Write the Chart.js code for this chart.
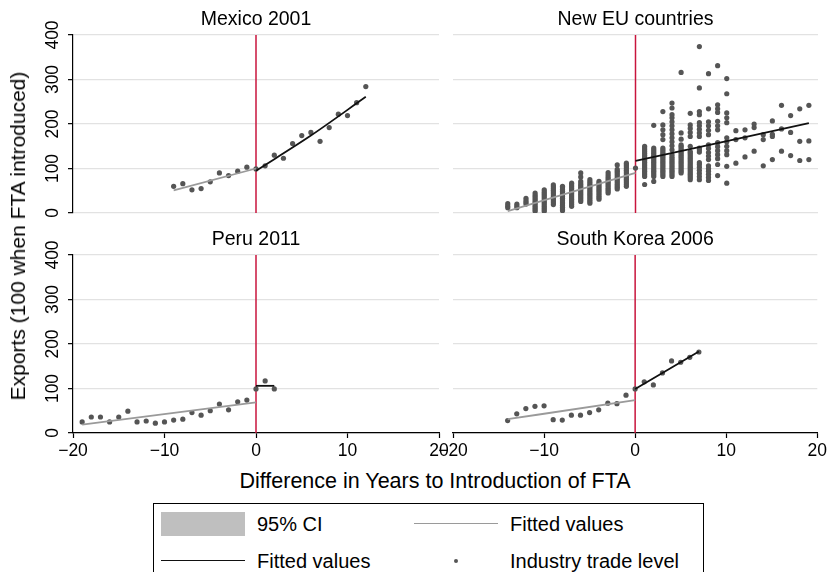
<!DOCTYPE html>
<html>
<head>
<meta charset="utf-8">
<script src="https://cdn.jsdelivr.net/npm/chart.js@4.4.1/dist/chart.umd.min.js"></script>
<style>
  body { margin: 0; background: #fff; width: 830px; height: 572px; overflow: hidden; position: relative;
         font-family: "Liberation Sans", Arial, Helvetica, sans-serif; color: #000; }
  canvas { position: absolute; }
  .txt { position: absolute; white-space: nowrap; }
  #ytitle { left: 18px; top: 236px; font-size: 21px; transform: translate(-50%, -50%) rotate(-90deg); }
  #xtitle { left: 435px; top: 481px; font-size: 21.5px; transform: translate(-50%, -50%); }
  #legend { position: absolute; left: 153px; top: 503px; width: 551px; height: 90px;
            border: 1.3px solid #000; box-sizing: border-box; font-size: 20px; }
  #legend .lbl { position: absolute; line-height: 24px; white-space: nowrap; }
  #legend .sym { position: absolute; }
</style>
</head>
<body>
<canvas id="mexico" width="452" height="225" style="left:0;top:0"></canvas>
<canvas id="eu" width="400" height="225" style="left:430px;top:0"></canvas>
<canvas id="peru" width="452" height="245" style="left:0;top:220px"></canvas>
<canvas id="korea" width="400" height="245" style="left:430px;top:220px"></canvas>

<div class="txt" id="ytitle">Exports (100 when FTA introduced)</div>
<div class="txt" id="xtitle">Difference in Years to Introduction of FTA</div>

<div id="legend">
  <div class="sym" style="left:7px;top:8px;width:84px;height:24px;background:#bfbfbf"></div>
  <div class="lbl" style="left:103px;top:8px">95% CI</div>
  <div class="sym" style="left:260px;top:19px;width:84px;height:0;border-top:1.6px solid #9a9a9a"></div>
  <div class="lbl" style="left:356px;top:8px">Fitted values</div>
  <div class="sym" style="left:7px;top:56px;width:84px;height:0;border-top:1.6px solid #111"></div>
  <div class="lbl" style="left:103px;top:45px">Fitted values</div>
  <div class="sym" style="left:300px;top:55px;width:4px;height:4px;border-radius:50%;background:#555"></div>
  <div class="lbl" style="left:356px;top:45px">Industry trade level</div>
</div>

<script>
// Mexico 2001
var mexYears = [-9, -8, -7, -6, -5, -4, -3, -2, -1, 0, 1, 2, 3, 4, 5, 6, 7, 8, 9, 10, 11, 12]
var mexValues = [60, 66, 52, 55, 70, 90, 84, 94, 103, 99, 106, 130, 123, 156, 174, 181, 161, 192, 222, 219, 248, 284]
var mexPreFitX = [-9, 0]
var mexPreFitY = [51, 100]
var mexPostFitX = [0, 6, 12]
var mexPostFitY = [95, 174, 261]

// Peru 2011
var peruYears = [-19, -18, -17, -16, -15, -14, -13, -12, -11, -10, -9, -8, -7, -6, -5, -4, -3, -2, -1, 0, 1, 2]
var peruValues = [25, 36, 36, 25, 36, 49, 25, 27, 22, 25, 29, 31, 46, 40, 50, 65, 52, 70, 74, 99, 117, 99]
var peruPreFitX = [-19, 0]
var peruPreFitY = [19, 69]
var peruPostFitX = [0, 2]
var peruPostFitY = [106, 106]

// South Korea 2006
var korYears = [-14, -13, -12, -11, -10, -9, -8, -7, -6, -5, -4, -3, -2, -1, 0, 1, 2, 3, 4, 5, 6, 7]
var korValues = [28, 43, 55, 60, 61, 30, 29, 40, 40, 46, 52, 67, 66, 85, 99, 115, 108, 135, 162, 159, 170, 182]
var korPreFitX = [-14, 0]
var korPreFitY = [31, 74]
var korPostFitX = [0, 7]
var korPostFitY = [99, 183]

// New EU countries: several industries per year
var euYears = [-14, -13, -12, -11, -10, -9, -8, -7, -6, -5, -4, -3, -2, -1, 0,
               1, 2, 3, 4, 5, 6, 7, 8, 9, 10, 11, 12, 13, 14, 15, 16, 17, 18, 19]
var euValues = [
  [12, 16, 21],
  [12, 16, 20],
  [20, 24, 28, 33],
  [4, 8, 12, 16, 20, 24, 28, 32, 36, 40, 45],
  [4, 8, 12, 16, 20, 24, 28, 32, 36, 40, 44, 48, 52],
  [19, 23, 27, 31, 35, 39, 43, 47, 51, 55, 59, 63],
  [5, 9, 13, 17, 21, 25, 29, 33, 37, 41, 45, 49, 53, 57, 60],
  [15, 19, 23, 27, 31, 35, 39, 43, 47, 51, 55, 59, 63, 67],
  [26, 30, 34, 38, 42, 46, 50, 54, 58, 62, 66, 71, 81, 90],
  [22, 26, 30, 34, 38, 42, 46, 50, 54, 58, 62, 66, 70, 75],
  [31, 35, 39, 43, 47, 51, 55, 59, 63, 67, 71],
  [45, 49, 53, 57, 61, 65, 69, 73, 77, 81, 86, 91],
  [54, 58, 62, 66, 70, 74, 78, 82, 86, 90, 94, 98, 108],
  [60, 64, 68, 72, 76, 80, 84, 88, 92, 96, 100, 104, 108, 112],
  [101],
  [64, 82, 86, 90, 94, 98, 102, 106, 110, 114, 118, 122, 126, 130, 134, 138, 142, 146, 150],
  [71, 82, 86, 90, 94, 98, 102, 106, 110, 114, 118, 122, 126, 130, 134, 138, 142, 146, 197],
  [82, 86, 90, 94, 98, 102, 106, 110, 114, 118, 122, 126, 130, 134, 138, 142, 146, 165, 176, 187, 198, 228],
  [82, 86, 90, 94, 98, 102, 106, 110, 114, 118, 122, 126, 131, 142, 151, 160, 169, 178, 187, 196, 205, 214, 221, 236, 247],
  [90, 94, 98, 102, 106, 110, 114, 118, 122, 126, 130, 134, 138, 142, 146, 150, 153, 166, 180, 316],
  [75, 79, 83, 87, 91, 95, 99, 103, 107, 111, 115, 119, 123, 127, 131, 135, 138, 150, 172, 181, 190, 198, 224],
  [75, 82, 89, 96, 103, 109, 113, 137, 142, 146, 172, 180, 188, 196, 203, 221, 228, 281, 374],
  [73, 80, 87, 94, 100, 106, 120, 128, 136, 145, 153, 176, 186, 196, 205, 234, 313],
  [84, 109, 122, 131, 140, 149, 158, 187, 196, 206, 226, 234, 243, 331],
  [67, 105, 131, 140, 150, 160, 169, 203, 214, 225, 268, 302],
  [112, 165, 185],
  [126, 169, 187],
  [139, 192, 200],
  [106, 165, 176],
  [120, 172, 177, 207],
  [139, 189, 242],
  [129, 181, 219],
  [118, 161, 234],
  [120, 162, 242]
]
var euPreFitX = [-14, 0]
var euPreFitY = [4, 90]
var euPostFitX = [0, 19]
var euPostFitY = [117, 202]

// axis ticks
var xTicks = [-20, -10, 0, 10, 20]
var yTicks = [0, 100, 200, 300, 400]

const FONT = '"Liberation Sans", Arial, Helvetica, sans-serif'
const RED = '#c8143c'
const DOT = '#555555'
Chart.defaults.font.family = FONT
Chart.defaults.color = '#000'

function toPoints(xs, ys) {
  return xs.map(function (x, i) { return {x: x, y: ys[i]} })
}

var euPoints = []
euYears.forEach(function (yr, i) {
  euValues[i].forEach(function (v) { euPoints.push({x: yr, y: v}) })
})

// one panel of the by() graph
function makePanel(id, title, points, preFit, postFit, opt) {
  new Chart(document.getElementById(id), {
    type: 'scatter',
    data: {
      datasets: [
        {data: [{x: 0, y: yTicks[0]}, {x: 0, y: yTicks[yTicks.length - 1]}], showLine: true,
         borderColor: RED, borderWidth: 1.5, pointRadius: 0, order: 3},
        {data: points, pointRadius: 2.6, backgroundColor: DOT, borderWidth: 0, order: 2},
        {data: preFit, showLine: true, borderColor: '#9a9a9a', borderWidth: 1.8, pointRadius: 0,
         cubicInterpolationMode: 'monotone', order: 1},
        {data: postFit, showLine: true, borderColor: '#111111', borderWidth: 1.8, pointRadius: 0,
         cubicInterpolationMode: 'monotone', order: 1}
      ]
    },
    options: {
      responsive: false,
      animation: false,
      events: [],
      layout: {padding: {left: opt.padLeft, right: opt.padRight, top: 0, bottom: opt.padBottom}},
      plugins: {
        legend: {display: false},
        tooltip: {enabled: false},
        // centred over the plot region only, like the Stata panel titles
        title: {display: true, fullSize: false, text: title, color: '#000',
                font: {size: 19.5, weight: 'normal'}, padding: {top: 8.3, bottom: 3.3}}
      },
      scales: {
        x: {
          type: 'linear', min: xTicks[0], max: xTicks[xTicks.length - 1],
          display: opt.showX,
          afterBuildTicks: function (s) { s.ticks = xTicks.map(function (v) { return {value: v} }) },
          grid: {drawOnChartArea: false, drawTicks: true, tickLength: 5, tickColor: '#000', tickWidth: 1.2},
          border: {display: true, color: '#000', width: 1.2},
          ticks: {autoSkip: false, maxRotation: 0, padding: 3, color: '#000', font: {size: 17.5},
                  callback: function (v) { return String(v).replace('-', '\u2212') }},
          afterFit: function (s) { s.height = opt.showX ? 30 : 0 }
        },
        y: {
          type: 'linear', min: yTicks[0], max: yTicks[yTicks.length - 1],
          afterBuildTicks: function (s) { s.ticks = yTicks.map(function (v) { return {value: v} }) },
          grid: {color: '#e2e2e2', lineWidth: 1.3, drawTicks: opt.showY, tickLength: 5,
                 tickColor: '#000', tickWidth: 1.2},
          border: {display: opt.showY, color: '#000', width: 1.2},
          ticks: {display: opt.showY, minRotation: 90, maxRotation: 90, crossAlign: 'center',
                  padding: 0, color: '#000', font: {size: 17.5}},
          afterFit: function (s) { s.width = opt.showY ? 73 : 0 }
        }
      }
    }
  })
}

makePanel('mexico', 'Mexico 2001', toPoints(mexYears, mexValues),
  toPoints(mexPreFitX, mexPreFitY), toPoints(mexPostFitX, mexPostFitY),
  {showX: false, showY: true, padLeft: 0, padRight: 13, padBottom: 12})
makePanel('eu', 'New EU countries', euPoints,
  toPoints(euPreFitX, euPreFitY), toPoints(euPostFitX, euPostFitY),
  {showX: false, showY: false, padLeft: 23, padRight: 12, padBottom: 12})
makePanel('peru', 'Peru 2011', toPoints(peruYears, peruValues),
  toPoints(peruPreFitX, peruPreFitY), toPoints(peruPostFitX, peruPostFitY),
  {showX: true, showY: true, padLeft: 0, padRight: 13, padBottom: 2})
makePanel('korea', 'South Korea 2006', toPoints(korYears, korValues),
  toPoints(korPreFitX, korPreFitY), toPoints(korPostFitX, korPostFitY),
  {showX: true, showY: false, padLeft: 23, padRight: 12, padBottom: 2})
</script>
</body>
</html>
